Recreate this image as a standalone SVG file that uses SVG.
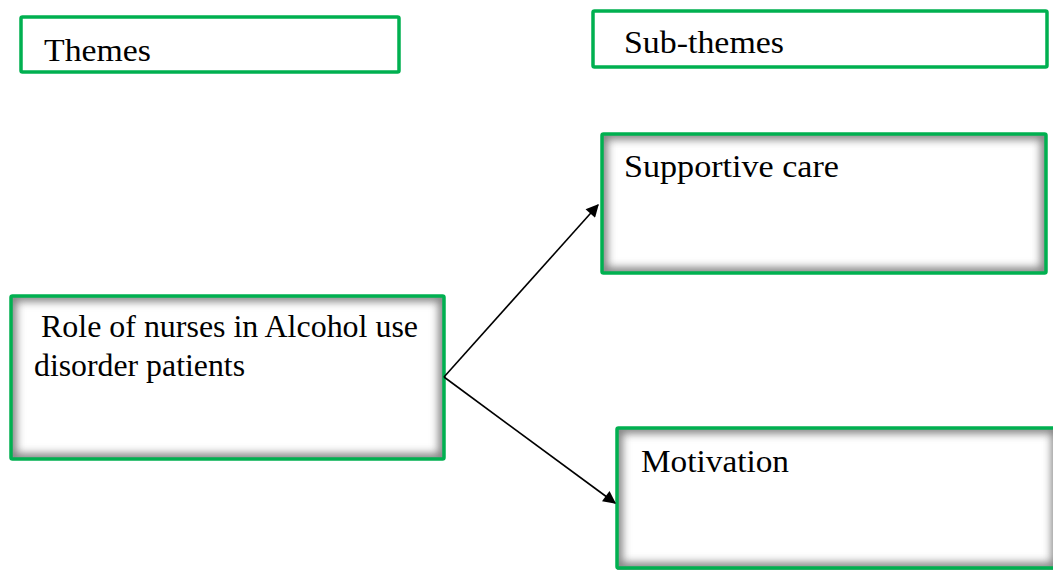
<svg xmlns="http://www.w3.org/2000/svg" width="1053" height="570" viewBox="0 0 1053 570">
<defs>
<style>
.box{fill:#fff;stroke:#00B050;stroke-width:3.5}
.glow{fill:none;stroke:#808080;stroke-width:11;filter:url(#blur)}
.t{font-family:"Liberation Serif",serif;font-size:31px;fill:#000}
.r{font-family:"Liberation Serif",serif;font-size:32px;fill:#000}
.conn{stroke:#000;stroke-width:1.6;fill:none;marker-end:url(#arr)}
</style>
<filter id="blur" x="-10%" y="-10%" width="120%" height="120%"><feGaussianBlur stdDeviation="4"/></filter>
<marker id="arr" viewBox="0 0 10 10" refX="9" refY="5" markerWidth="9" markerHeight="8" orient="auto" markerUnits="strokeWidth"><path d="M0,0 L10,5 L0,10 z" fill="#000"/></marker>
<clipPath id="c1"><rect x="602" y="134" width="444" height="139"/></clipPath>
<clipPath id="c2"><rect x="11" y="296" width="433" height="163"/></clipPath>
<clipPath id="c3"><rect x="617" y="428" width="450" height="160"/></clipPath>
</defs>
<g id="themes">
<rect class="box" x="21" y="17" width="378" height="55" rx="1.5"/>
<text class="t" x="44" y="61" textLength="107" lengthAdjust="spacingAndGlyphs">Themes</text>
</g>
<g id="subthemes">
<rect class="box" x="593" y="11" width="454" height="56" rx="1.5"/>
<text class="t" x="624" y="53" textLength="160" lengthAdjust="spacingAndGlyphs">Sub-themes</text>
</g>
<g id="supportive">
<rect x="602" y="134" width="444" height="139" fill="#fff"/>
<g clip-path="url(#c1)"><rect class="glow" x="602" y="134" width="444" height="139"/></g>
<rect class="box" x="602" y="134" width="444" height="139" rx="1.5" style="fill:none"/>
<text class="t" x="624" y="177" textLength="215" lengthAdjust="spacingAndGlyphs">Supportive care</text>
</g>
<g id="role">
<rect x="11" y="296" width="433" height="163" fill="#fff"/>
<g clip-path="url(#c2)"><rect class="glow" x="11" y="296" width="433" height="163"/></g>
<rect class="box" x="11" y="296" width="433" height="163" rx="1.5" style="fill:none"/>
<text class="r" x="41" y="337" textLength="377" lengthAdjust="spacingAndGlyphs">Role of nurses in Alcohol use</text>
<text class="r" x="34" y="376" textLength="211" lengthAdjust="spacingAndGlyphs">disorder patients</text>
</g>
<g id="motivation">
<rect x="617" y="428" width="450" height="160" fill="#fff"/>
<g clip-path="url(#c3)"><rect class="glow" x="617" y="428" width="440" height="140"/></g>
<rect class="box" x="617" y="428" width="440" height="140" rx="1.5" style="fill:none"/>
<text class="t" x="641" y="472" textLength="148" lengthAdjust="spacingAndGlyphs">Motivation</text>
</g>
<g id="connectors">
<path class="conn" d="M444,377 L598,205"/>
<path class="conn" d="M444,377 L615,503"/>
</g>
</svg>
